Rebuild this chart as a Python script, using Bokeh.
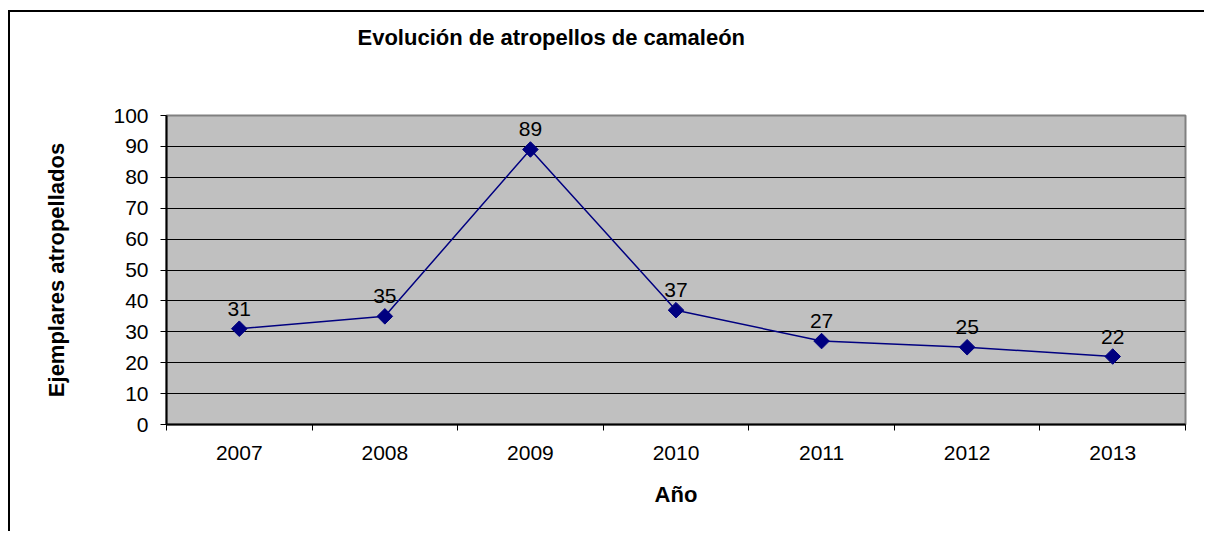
import numpy as np
from bokeh.plotting import figure
from bokeh.models import Range1d, FixedTicker, ColumnDataSource
from bokeh.core.properties import value
from bokeh.embed import file_html
from bokeh.resources import INLINE

# ---- data ----
years = ["2007", "2008", "2009", "2010", "2011", "2012", "2013"]
counts = [31, 35, 89, 37, 27, 25, 22]
y_ticks = list(range(0, 101, 10))

title_text = "Evolución de atropellos de camaleón"
x_title = "Año"
y_title = "Ejemplares atropellados"

FONT = "Liberation Sans"
NAVY = "#000080"
FS = "21px"

xpos = np.arange(len(years)) + 0.5
src = ColumnDataSource(dict(x=xpos, y=counts, lab=[str(c) for c in counts]))

p = figure(width=1196, height=521, output_backend="svg", toolbar_location=None,
           x_range=Range1d(0, len(years)), y_range=Range1d(0, 100),
           min_border_left=156, min_border_right=21, min_border_top=103,
           min_border_bottom=109)
p.styles = {"margin-left": "8px", "margin-top": "10px",
            "border-left": "2px solid black", "border-top": "2px solid black"}
p.background_fill_color = "#C0C0C0"
p.border_fill_color = "white"
p.outline_line_color = "#808080"
p.outline_line_width = 2

p.title.text = title_text
p.title.align = "left"
p.title.offset = 191
p.title.standoff = 0
p.title.padding = dict(left=0, right=0, top=10, bottom=66)
p.title.text_font = FONT
p.title.text_font_style = "bold"
p.title.text_font_size = "22px"
p.title.text_color = "black"

# x axis: labels at category centres, ticks at boundaries (minor ticks)
p.xaxis.ticker = FixedTicker(ticks=list(xpos), minor_ticks=list(range(len(years) + 1)))
p.xaxis.major_label_overrides = {float(x): y for x, y in zip(xpos, years)}
p.xaxis.major_tick_line_color = None
p.xaxis.major_tick_in = 0
p.xaxis.major_tick_out = 0
p.xaxis.minor_tick_line_color = "black"
p.xaxis.minor_tick_in = 0
p.xaxis.minor_tick_out = 6
p.xaxis.minor_tick_line_width = 1
p.xaxis.axis_line_color = "black"
p.xaxis.axis_line_width = 2
p.xaxis.major_label_text_font = FONT
p.xaxis.major_label_text_font_size = FS
p.xaxis.major_label_text_color = "black"
p.xaxis.major_label_standoff = 15
p.xaxis.axis_label = x_title
p.xaxis.axis_label_text_font = FONT
p.xaxis.axis_label_text_font_style = "bold"
p.xaxis.axis_label_text_font_size = "22px"
p.xaxis.axis_label_text_color = "black"
p.xaxis.axis_label_standoff = 19

p.yaxis.ticker = FixedTicker(ticks=y_ticks, minor_ticks=[])
p.yaxis.axis_line_color = "black"
p.yaxis.axis_line_width = 2
p.yaxis.major_tick_line_color = "black"
p.yaxis.major_tick_in = 0
p.yaxis.major_tick_out = 6
p.yaxis.major_label_text_font = FONT
p.yaxis.major_label_text_font_size = FS
p.yaxis.major_label_text_color = "black"
p.yaxis.major_label_standoff = 12
p.yaxis.axis_label = y_title
p.yaxis.axis_label_text_font = FONT
p.yaxis.axis_label_text_font_style = "bold"
p.yaxis.axis_label_text_font_size = "22px"
p.yaxis.axis_label_text_color = "black"
p.yaxis.axis_label_standoff = 41

p.xgrid.grid_line_color = None
p.ygrid.ticker = FixedTicker(ticks=y_ticks[1:-1])
p.ygrid.grid_line_color = "black"
p.ygrid.grid_line_width = 1

p.line("x", "y", source=src, line_color=NAVY, line_width=1.5)
p.scatter("x", "y", source=src, marker="square", angle=np.pi / 4, size=11,
          fill_color=NAVY, line_color=NAVY)
p.text("x", "y", text="lab", source=src, text_align="center",
       text_baseline="alphabetic", y_offset=-20,
       text_font=value(FONT), text_font_size=FS, text_color="black")

open("out.html", "w").write(file_html(p, INLINE))
